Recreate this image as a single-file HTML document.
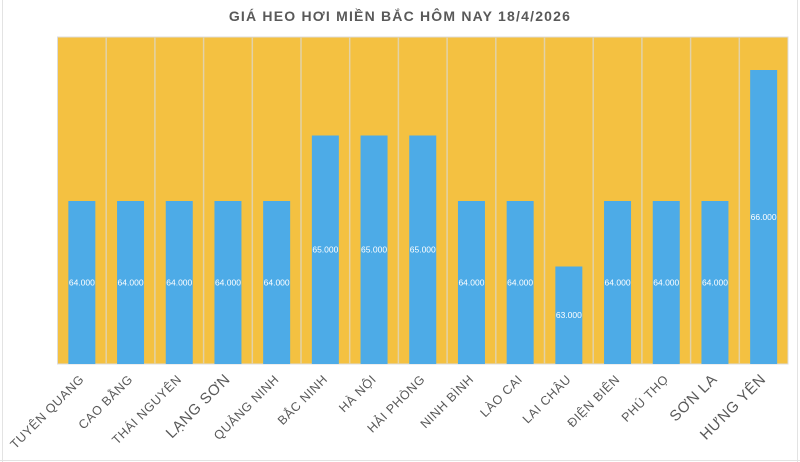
<!DOCTYPE html>
<html><head><meta charset="utf-8"><style>
html,body{margin:0;padding:0;background:#fff;}
svg{display:block;}
</style></head><body>
<svg width="800" height="462" xmlns="http://www.w3.org/2000/svg" font-family="Liberation Sans, DejaVu Sans, sans-serif">
<rect width="800" height="462" fill="#fff"/>
<g stroke="#e3e3e3" stroke-width="1">
<line x1="2.5" y1="0" x2="2.5" y2="462"/>
<line x1="797.5" y1="0" x2="797.5" y2="462"/>
<line x1="0" y1="460.5" x2="800" y2="460.5"/>
</g>
<text x="400" y="21" text-anchor="middle" font-size="14" font-weight="bold" fill="#595959" letter-spacing="1.2">GIÁ HEO HƠI MIỀN BẮC HÔM NAY 18/4/2026</text>
<rect x="57.5" y="37" width="730.5" height="327" fill="#F4C141" stroke="#dcdcdc" stroke-width="1"/>
<g stroke="#e2d2a8" stroke-width="1.5">
<line x1="106.2" y1="37" x2="106.2" y2="364"/><line x1="154.9" y1="37" x2="154.9" y2="364"/><line x1="203.6" y1="37" x2="203.6" y2="364"/><line x1="252.3" y1="37" x2="252.3" y2="364"/><line x1="301" y1="37" x2="301" y2="364"/><line x1="349.7" y1="37" x2="349.7" y2="364"/><line x1="398.4" y1="37" x2="398.4" y2="364"/><line x1="447.1" y1="37" x2="447.1" y2="364"/><line x1="495.8" y1="37" x2="495.8" y2="364"/><line x1="544.5" y1="37" x2="544.5" y2="364"/><line x1="593.2" y1="37" x2="593.2" y2="364"/><line x1="641.9" y1="37" x2="641.9" y2="364"/><line x1="690.6" y1="37" x2="690.6" y2="364"/><line x1="739.3" y1="37" x2="739.3" y2="364"/>
</g>
<g fill="#4DABE7">
<rect x="68.35" y="201" width="27" height="163"/>
<rect x="117.05" y="201" width="27" height="163"/>
<rect x="165.75" y="201" width="27" height="163"/>
<rect x="214.45" y="201" width="27" height="163"/>
<rect x="263.15" y="201" width="27" height="163"/>
<rect x="311.85" y="135.5" width="27" height="228.5"/>
<rect x="360.55" y="135.5" width="27" height="228.5"/>
<rect x="409.25" y="135.5" width="27" height="228.5"/>
<rect x="457.95" y="201" width="27" height="163"/>
<rect x="506.65" y="201" width="27" height="163"/>
<rect x="555.35" y="266.5" width="27" height="97.5"/>
<rect x="604.05" y="201" width="27" height="163"/>
<rect x="652.75" y="201" width="27" height="163"/>
<rect x="701.45" y="201" width="27" height="163"/>
<rect x="750.15" y="70" width="27" height="294"/>
</g>
<g fill="#fff" font-size="8.5" text-anchor="middle">
<text x="81.85" y="285.5">64.000</text>
<text x="130.55" y="285.5">64.000</text>
<text x="179.25" y="285.5">64.000</text>
<text x="227.95" y="285.5">64.000</text>
<text x="276.65" y="285.5">64.000</text>
<text x="325.35" y="252.7">65.000</text>
<text x="374.05" y="252.7">65.000</text>
<text x="422.75" y="252.7">65.000</text>
<text x="471.45" y="285.5">64.000</text>
<text x="520.15" y="285.5">64.000</text>
<text x="568.85" y="318.2">63.000</text>
<text x="617.55" y="285.5">64.000</text>
<text x="666.25" y="285.5">64.000</text>
<text x="714.95" y="285.5">64.000</text>
<text x="763.65" y="220">66.000</text>
</g>
<g fill="#595959" font-size="12.5" text-anchor="end" letter-spacing="0.6">
<text transform="translate(84.85,380) rotate(-45)">TUYÊN QUANG</text>
<text transform="translate(133.55,380) rotate(-45)">CAO BẰNG</text>
<text transform="translate(182.25,380) rotate(-45)">THÁI NGUYÊN</text>
<text transform="translate(230.95,380) rotate(-45)" font-size="15">LẠNG SƠN</text>
<text transform="translate(279.65,380) rotate(-45)">QUẢNG NINH</text>
<text transform="translate(328.35,380) rotate(-45)">BẮC NINH</text>
<text transform="translate(377.05,380) rotate(-45)">HÀ NỘI</text>
<text transform="translate(425.75,380) rotate(-45)">HẢI PHÒNG</text>
<text transform="translate(474.45,380) rotate(-45)">NINH BÌNH</text>
<text transform="translate(523.15,380) rotate(-45)">LÀO CAI</text>
<text transform="translate(571.85,380) rotate(-45)">LAI CHÂU</text>
<text transform="translate(620.55,380) rotate(-45)">ĐIỆN BIÊN</text>
<text transform="translate(669.25,380) rotate(-45)">PHÚ THỌ</text>
<text transform="translate(717.95,380) rotate(-45)" font-size="15">SƠN LA</text>
<text transform="translate(766.65,380) rotate(-45)" font-size="15">HƯNG YÊN</text>
</g>
</svg>
</body></html>
